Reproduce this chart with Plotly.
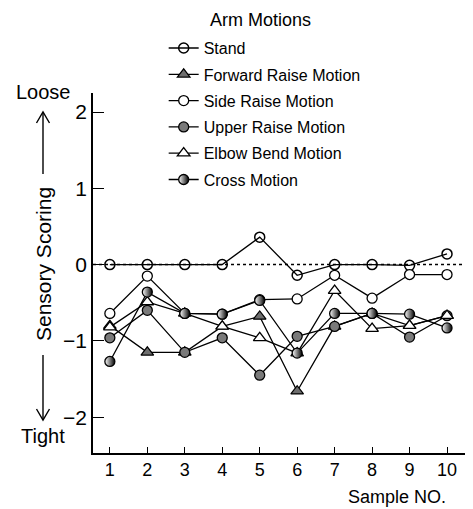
import plotly.graph_objects as go

samples = [1, 2, 3, 4, 5, 6, 7, 8, 9, 10]
stand = [0.0, 0.0, 0.0, 0.0, 0.36, -0.14, 0.0, 0.0, -0.01, 0.14]
forward_raise = [-0.80, -1.15, -1.15, -0.81, -0.68, -1.66, -0.81, -0.64, -0.80, -0.67]
side_raise = [-0.64, -0.15, -0.64, -0.65, -0.46, -0.45, -0.14, -0.44, -0.13, -0.13]
upper_raise = [-0.96, -0.60, -1.15, -0.96, -1.45, -0.94, -0.81, -0.64, -0.95, -0.67]
elbow_bend = [-0.82, -0.49, -0.64, -0.81, -0.96, -1.16, -0.34, -0.84, -0.80, -0.67]
cross_motion = [-1.27, -0.36, -0.64, -0.65, -0.47, -1.16, -0.64, -0.64, -0.65, -0.83]

y_ticks = [-2, -1, 0, 1, 2]

FONT = "Liberation Sans, Arial, Helvetica, sans-serif"

series = [
    ("Stand", stand, dict(symbol="circle-open", color="black", size=10, line=dict(width=1.5, color="black"))),
    ("Forward Raise Motion", forward_raise, dict(symbol="triangle-up", color="#6e6e6e", size=11, line=dict(width=1.2, color="black"))),
    ("Side Raise Motion", side_raise, dict(symbol="circle", color="white", size=10, line=dict(width=1.3, color="black"))),
    ("Upper Raise Motion", upper_raise, dict(symbol="circle", color="#7a7a7a", size=10, line=dict(width=1.3, color="black"))),
    ("Elbow Bend Motion", elbow_bend, dict(symbol="triangle-up", color="white", size=11, line=dict(width=1.3, color="black"))),
    ("Cross Motion", cross_motion, dict(symbol="circle", color="white", size=10, gradient=dict(type="horizontal", color="black"), line=dict(width=1.3, color="black"))),
]

fig = go.Figure()
for i, (name, vals, mk) in enumerate(series):
    fig.add_trace(go.Scatter(
        x=samples, y=vals, name=name, mode="lines+markers", legendgroup=f"g{i}",
        line=dict(color="black", width=1.3), marker=mk,
    ))

fig.add_shape(type="line", xref="paper", yref="y", x0=0, x1=1, y0=0, y1=0,
              line=dict(color="black", width=1.5, dash="dot"), layer="below")

fig.update_layout(
    width=473, height=509,
    margin=dict(l=93, r=8, t=93, b=56),
    paper_bgcolor="white", plot_bgcolor="white",
    font=dict(family=FONT, color="black", size=18),
    showlegend=True,
    legend=dict(x=0.19, y=1.172, xanchor="left", yanchor="top",
                font=dict(family=FONT, size=16), tracegroupgap=2.5,
                bgcolor="rgba(0,0,0,0)", itemwidth=30),
    xaxis=dict(range=[0.55, 10.48], tickvals=samples, ticks="inside", ticklen=6,
               tickwidth=1.3, tickcolor="black", showline=True, linecolor="black",
               linewidth=1.5, showgrid=False, zeroline=False,
               tickfont=dict(size=18)),
    yaxis=dict(range=[-2.47, 2.25], tickvals=y_ticks, ticks="inside", ticklen=11,
               tickwidth=1.3, tickcolor="black", showline=True, linecolor="black",
               linewidth=1.5, showgrid=False, zeroline=False,
               tickfont=dict(size=21)),
)

# paper coordinates from pixel positions
def py(p):
    return (453 - p) / 360

def px(p):
    return (p - 93) / 372

xt = px(43)
fig.add_annotation(text="Arm Motions", xref="paper", yref="paper", x=px(208), y=py(20),
                   xanchor="left", yanchor="middle", showarrow=False,
                   font=dict(size=18))
fig.add_annotation(text="Sensory Scoring", xref="paper", yref="paper", x=xt, y=py(264),
                   textangle=-90, showarrow=False, font=dict(size=21),
                   xanchor="center", yanchor="middle")
fig.add_annotation(text="Loose", xref="paper", yref="paper", x=xt, y=py(92),
                   showarrow=False, font=dict(size=20), xanchor="center", yanchor="middle")
fig.add_annotation(text="Tight", xref="paper", yref="paper", x=xt, y=py(436),
                   showarrow=False, font=dict(size=20), xanchor="center", yanchor="middle")

arrow_line = dict(color="black", width=1.4)
# up arrow
fig.add_shape(type="line", xref="paper", yref="paper", x0=xt, x1=xt, y0=py(113), y1=py(174), line=arrow_line)
fig.add_shape(type="path", xref="paper", yref="paper",
              path=f"M {px(36.5)} {py(123)} L {xt} {py(112)} L {px(49.5)} {py(123)}", line=arrow_line)
# down arrow
fig.add_shape(type="line", xref="paper", yref="paper", x0=xt, x1=xt, y0=py(355), y1=py(419), line=arrow_line)
fig.add_shape(type="path", xref="paper", yref="paper",
              path=f"M {px(36.5)} {py(409)} L {xt} {py(420)} L {px(49.5)} {py(409)}", line=arrow_line)

fig.add_annotation(text="Sample NO.", xref="paper", yref="paper", x=px(397), y=py(497),
                   showarrow=False, font=dict(size=18), xanchor="center", yanchor="middle")

fig.write_html("out.html")
